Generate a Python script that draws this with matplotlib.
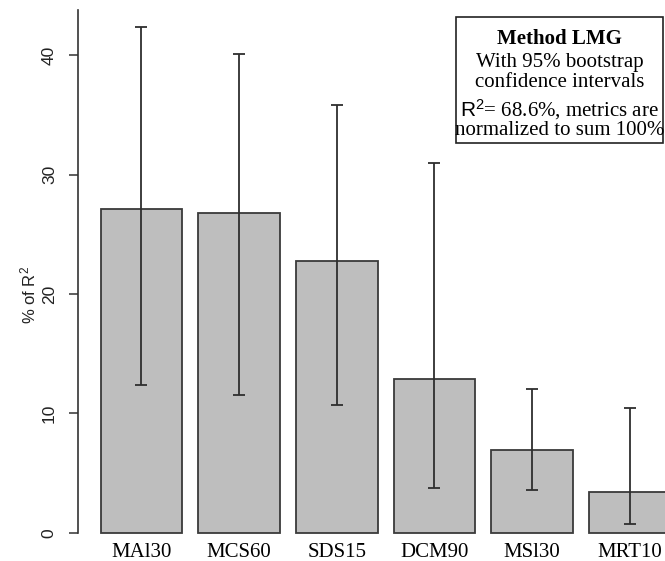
import matplotlib
matplotlib.use("Agg")
import matplotlib.pyplot as plt
from matplotlib.patches import Rectangle
import numpy as np

# relative importance (LMG), % of R^2, with 95% bootstrap CI
metrics = ["MAl30", "MCS60", "SDS15", "DCM90", "MSl30", "MRT10"]
share = [27.15, 26.8, 22.75, 12.85, 6.95, 3.37]
ci_low = [12.37, 11.5, 10.67, 3.72, 3.6, 0.75]
ci_high = [42.37, 40.1, 35.85, 30.95, 12.0, 10.48]
yticks = [0, 10, 20, 30, 40]

plt.rcParams["mathtext.fontset"] = "custom"
plt.rcParams["mathtext.rm"] = "Liberation Sans"
plt.rcParams["mathtext.it"] = "Liberation Sans:italic"

W, H = 665, 561
fig = plt.figure(figsize=(W / 100, H / 100), dpi=100)

# axes placed in pixel terms
left_px, bottom_px, top_px = 77.7, 532.7, 10
ax = fig.add_axes([left_px / W, 1 - bottom_px / H, 1 - left_px / W, (bottom_px - top_px) / H])

x = np.arange(len(metrics))
share = np.array(share)
lo = share - np.array(ci_low)
hi = np.array(ci_high) - share

ax.bar(x, share, width=0.834, color="#bebebe", edgecolor="#3a3a3a", linewidth=1.3, clip_on=False)
ax.errorbar(x, share, yerr=[lo, hi], fmt="none", ecolor="#2e2e2e", elinewidth=1.3,
            capsize=4, capthick=1.3, clip_on=False)

ax.set_xlim(-0.651, 5.359)
ax.set_ylim(0, 43.78)

for s in ["top", "right", "bottom"]:
    ax.spines[s].set_visible(False)
ax.spines["left"].set_color("#333333")
ax.spines["left"].set_linewidth(1.2)

ax.set_xticks(x)
ax.set_xticklabels(metrics, fontfamily="Liberation Serif", fontsize=15)
ax.tick_params(axis="x", length=0, pad=7.5)

ax.set_yticks(yticks)
ax.set_yticklabels([str(t) for t in yticks], fontfamily="Liberation Sans", fontsize=12.5,
                   rotation=90, va="center", color="#222222")
ax.tick_params(axis="y", length=6.5, width=1.1, color="#333333", pad=8.5)

fig.text(28.5 / W, 1 - 295 / H, r"% of $\mathrm{R}^2$", rotation=90, ha="center", va="center",
         fontfamily="Liberation Sans", fontsize=12, color="#222222")

# note box at top right
box = Rectangle((456 / W, 1 - 142.7 / H), (663 - 456) / W, (142.7 - 16.7) / H,
                transform=fig.transFigure, facecolor="white", edgecolor="#222222",
                linewidth=1.2)
fig.add_artist(box)
cx = 559.5 / W
lines = [
    ("Method LMG", 44, "bold"),
    ("With 95% bootstrap", 67.3, "normal"),
    ("confidence intervals", 86.7, "normal"),
    (r"$\mathrm{R}^2$= 68.6%, metrics are", 116, "normal"),
    ("normalized to sum 100%", 135, "normal"),
]
for txt, base, wt in lines:
    fig.text(cx, 1 - base / H, txt, ha="center", va="baseline", fontfamily="Liberation Serif",
             fontsize=15, fontweight=wt, color="black")

fig.savefig("out.png", dpi=100)
